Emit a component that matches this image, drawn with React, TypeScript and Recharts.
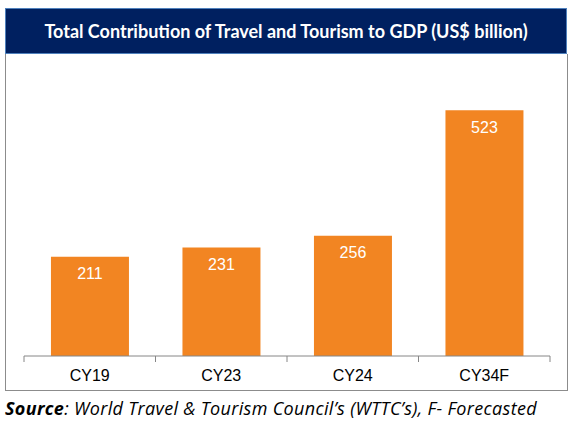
import React from "react";
import { BarChart, Bar, XAxis, YAxis, LabelList } from "recharts";

const categories = ["CY19", "CY23", "CY24", "CY34F"];
const values = [211, 231, 256, 523];
const title = "Total Contribution of Travel and Tourism to GDP (US$ billion)";

const data = categories.map((c, i) => ({ name: c, value: values[i] }));

const CHART_W = 562;
const CHART_H = 335;
const MARGIN = { top: 19, right: 18, bottom: 0, left: 18 };
const BAND = (CHART_W - MARGIN.left - MARGIN.right) / categories.length;

const Tick = (props: any) => {
  const { x, y, payload, index } = props;
  const half = payload && payload.offset ? payload.offset : BAND / 2;
  const top = y - 8;
  return (
    <g>
      <line x1={x - half} y1={top} x2={x - half} y2={top + 6} stroke="#868686" strokeWidth={1} />
      {index === categories.length - 1 && (
        <line x1={x + half} y1={top} x2={x + half} y2={top + 6} stroke="#868686" strokeWidth={1} />
      )}
      <text x={x} y={y + 17} textAnchor="middle" fill="#000" fontFamily="Arial, 'Liberation Sans', sans-serif" fontSize={16}>
        {payload.value}
      </text>
    </g>
  );
};

export default function App() {
  return (
    <div style={{ position: "absolute", left: 0, top: 0, width: 573, height: 421, background: "#fff" }}>
      <div
        style={{
          position: "absolute",
          left: 5,
          top: 8,
          width: 562,
          height: 46,
          background: "#002060",
          border: "1px solid #4f81bd",
          boxSizing: "border-box",
          color: "#fff",
          fontFamily: "Lato, 'Open Sans', sans-serif",
          fontWeight: 700,
          fontSize: 18,
          lineHeight: "44px",
          textAlign: "center",
          whiteSpace: "nowrap",
        }}
      >
        {title}
      </div>
      <div
        style={{
          position: "absolute",
          left: 5,
          top: 54,
          width: 563,
          height: 337,
          borderLeft: "1px solid #8c8c8c",
          borderRight: "1px solid #8c8c8c",
          borderBottom: "1px solid #8c8c8c",
          boxSizing: "border-box",
        }}
      >
        <div style={{ position: "absolute", left: 0, top: 1 }}>
          <BarChart width={CHART_W} height={CHART_H} data={data} margin={MARGIN} barCategoryGap="20.5%">
            <YAxis hide domain={[0, 600]} />
            <XAxis
              dataKey="name"
              axisLine={{ stroke: "#868686" }}
              tickLine={false}
              tick={<Tick />}
              height={34}
              interval={0}
            />
            <Bar dataKey="value" fill="#F28522" isAnimationActive={false}>
              <LabelList
                dataKey="value"
                position="insideTop"
                offset={11}
                fill="#fff"
                fontFamily="Arial, 'Liberation Sans', sans-serif"
                fontSize={16}
              />
            </Bar>
          </BarChart>
        </div>
      </div>
      <div
        style={{
          position: "absolute",
          left: 5,
          top: 397,
          fontFamily: "'Open Sans', Lato, sans-serif",
          fontStyle: "italic",
          fontSize: 18,
          letterSpacing: 0.33,
          color: "#000",
          whiteSpace: "nowrap",
          lineHeight: "22px",
        }}
      >
        <b>Source</b>: World Travel &amp; Tourism Council’s (WTTC’s), F- Forecasted
      </div>
    </div>
  );
}
